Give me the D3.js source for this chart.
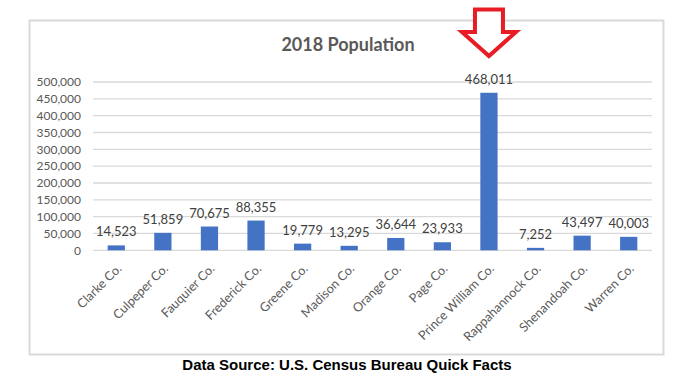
<!DOCTYPE html>
<html>
<head>
<meta charset="utf-8">
<script src="https://cdn.jsdelivr.net/npm/d3@7"></script>
<style>
  body { margin: 0; background: #fff; }
  svg text { font-family: Lato, "Open Sans", sans-serif; }
</style>
</head>
<body>
<div id="chart"></div>
<script>
// counties and 2018 population
var counties = ["Clarke Co.", "Culpeper Co.", "Fauquier Co.", "Frederick Co.", "Greene Co.",
  "Madison Co.", "Orange Co.", "Page Co.", "Prince William Co.", "Rappahannock Co.",
  "Shenandoah Co.", "Warren Co."];
var population = [14523, 51859, 70675, 88355, 19779, 13295, 36644, 23933, 468011, 7252, 43497, 40003];
var yTicks = [0, 50000, 100000, 150000, 200000, 250000, 300000, 350000, 400000, 450000, 500000];

var svgWidth = 680;
var svgHeight = 392;

var svg = d3.select("#chart")
  .append("svg")
  .attr("width", svgWidth)
  .attr("height", svgHeight);

// chart frame
svg.append("rect")
  .attr("x", 29.5)
  .attr("y", 20.5)
  .attr("width", 634)
  .attr("height", 334)
  .attr("fill", "#fff")
  .attr("stroke", "#d9d9d9")
  .attr("stroke-width", 2);

var x = d3.scaleBand()
  .domain(counties)
  .range([93, 652])
  .paddingInner(0.63)
  .paddingOuter(0.315);

var y = d3.scaleLinear()
  .domain([0, 500000])
  .range([250.3, 82]);

var fmt = d3.format(",");

// gridlines
svg.append("g")
  .selectAll("line")
  .data(yTicks)
  .enter()
  .append("line")
  .attr("x1", 93)
  .attr("x2", 652)
  .attr("y1", d => y(d))
  .attr("y2", d => y(d))
  .attr("stroke", "#d9d9d9")
  .attr("stroke-width", 1.3);

// y axis labels
var leftAxis = d3.axisLeft(y).tickValues(yTicks).tickFormat(fmt).tickSize(0).tickPadding(0);
var yAxis = svg.append("g")
  .attr("transform", "translate(81,0)")
  .call(leftAxis);
yAxis.select(".domain").remove();
yAxis.selectAll("text")
  .attr("fill", "#595959")
  .style("font-size", "12px")
  .style("font-family", "Lato, sans-serif");

// bars
svg.selectAll(".bar")
  .data(population)
  .enter()
  .append("rect")
  .attr("class", "bar")
  .attr("x", (d, i) => x(counties[i]))
  .attr("y", d => y(d))
  .attr("width", x.bandwidth())
  .attr("height", d => y(0) - y(d))
  .attr("fill", "#4472c4");

// data labels
svg.selectAll(".dlabel")
  .data(population)
  .enter()
  .append("text")
  .attr("class", "dlabel")
  .attr("x", (d, i) => x(counties[i]) + x.bandwidth() / 2)
  .attr("y", d => y(d) - 9)
  .attr("text-anchor", "middle")
  .attr("fill", "#404040")
  .style("font-size", "13px")
  .text(d => fmt(d));

// category labels
var bottomAxis = d3.axisBottom(x).tickSize(0).tickPadding(0);
var xAxis = svg.append("g")
  .attr("transform", `translate(0,${y(0)})`)
  .call(bottomAxis);
xAxis.select(".domain").remove();
xAxis.selectAll("text")
  .attr("fill", "#595959")
  .style("font-size", "12.6px")
  .style("font-family", "Lato, sans-serif")
  .attr("text-anchor", "end")
  .attr("dy", null)
  .attr("y", 0)
  .attr("transform", "translate(6,19) rotate(-45)");

// title
svg.append("text")
  .attr("x", 348)
  .attr("y", 51)
  .attr("text-anchor", "middle")
  .attr("fill", "#595959")
  .style("font-size", "18px")
  .style("font-weight", "bold")
  .text("2018 Population");

// red arrow pointing at Prince William
var ax = x("Prince William Co.") + x.bandwidth() / 2;
svg.append("path")
  .attr("d", `M${ax - 14},9.5 L${ax + 14},9.5 L${ax + 14},32 L${ax + 27},32 L${ax},56 L${ax - 27},32 L${ax - 14},32 Z`)
  .attr("fill", "#fff")
  .attr("stroke", "#e81c24")
  .attr("stroke-width", 4)
  .attr("stroke-linejoin", "miter");

// source note
svg.append("text")
  .attr("x", 347)
  .attr("y", 370)
  .attr("text-anchor", "middle")
  .attr("fill", "#000")
  .style("font-family", "'Liberation Sans', Arial, sans-serif")
  .style("font-size", "15px")
  .style("font-weight", "bold")
  .text("Data Source: U.S. Census Bureau Quick Facts");
</script>
</body>
</html>
